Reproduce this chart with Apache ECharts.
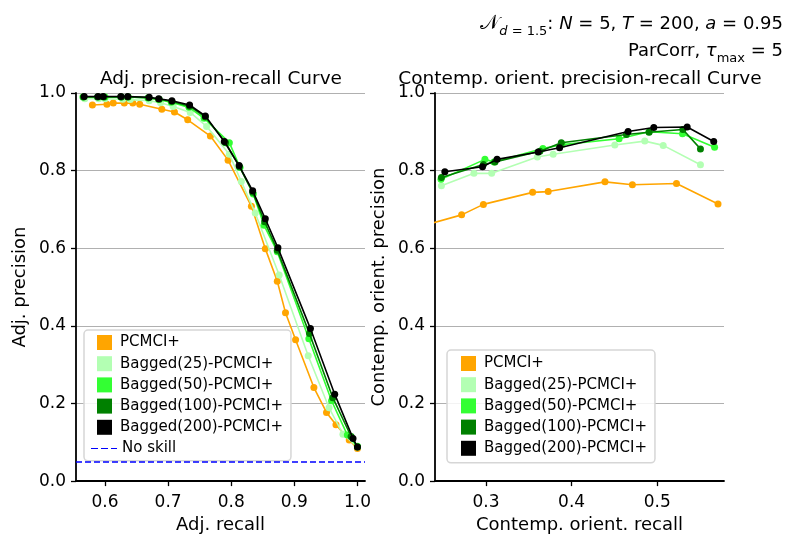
<!DOCTYPE html>
<html>
<head>
<meta charset="utf-8">
<script src="https://cdn.jsdelivr.net/npm/echarts@6/dist/echarts.min.js"></script>
<style>html,body{margin:0;padding:0;background:#fff}#c{width:802px;height:539px}</style>
</head>
<body>
<div id="c"></div>
<script>
// ---------- DATA ----------
const seriesNames = ['PCMCI+', 'Bagged(25)-PCMCI+', 'Bagged(50)-PCMCI+', 'Bagged(100)-PCMCI+', 'Bagged(200)-PCMCI+'];
const seriesColors = ['#ffa500', '#b3ffb3', '#33ff33', '#008000', '#000000'];

// Left panel: adjacency precision-recall
const adjRecall_pcmci = [0.580,0.603,0.613,0.6305,0.644,0.655,0.690,0.710,0.731,0.767,0.795,0.832,0.854,0.873,0.886,0.902,0.931,0.951,0.966,0.987,1.0];
const adjPrec_pcmci   = [0.969,0.971,0.974,0.974,0.974,0.971,0.958,0.951,0.931,0.889,0.827,0.708,0.599,0.515,0.434,0.364,0.241,0.177,0.145,0.106,0.084];
const adjRecall_b25 = [0.568,0.590,0.600,0.628,0.640,0.670,0.688,0.708,0.735,0.761,0.797,0.816,0.838,0.876,0.922,0.955,0.977,1.0];
const adjPrec_b25   = [0.985,0.985,0.985,0.984,0.983,0.980,0.975,0.965,0.950,0.914,0.842,0.772,0.691,0.531,0.323,0.189,0.121,0.088];
const adjRecall_b50 = [0.565,0.590,0.600,0.625,0.637,0.668,0.685,0.705,0.733,0.757,0.797,0.814,0.835,0.852,0.873,0.923,0.959,0.984,1.0];
const adjPrec_b50   = [0.990,0.990,0.990,0.990,0.990,0.987,0.983,0.976,0.963,0.935,0.872,0.808,0.740,0.659,0.591,0.367,0.207,0.119,0.090];
const adjRecall_b100 = [0.566,0.588,0.598,0.626,0.636,0.669,0.686,0.706,0.734,0.759,0.791,0.813,0.834,0.853,0.873,0.924,0.961,0.990,1.0];
const adjPrec_b100   = [0.990,0.990,0.990,0.990,0.990,0.988,0.984,0.978,0.966,0.938,0.872,0.810,0.744,0.668,0.595,0.380,0.215,0.115,0.088];
const adjRecall_b200 = [0.567,0.589,0.597,0.625,0.636,0.670,0.685,0.706,0.734,0.759,0.789,0.8125,0.834,0.854,0.874,0.9255,0.964,0.993,1.0];
const adjPrec_b200   = [0.991,0.991,0.991,0.991,0.991,0.989,0.985,0.980,0.969,0.941,0.875,0.813,0.748,0.676,0.601,0.393,0.224,0.110,0.088];
const noSkill = 0.05;

// Right panel: contemporaneous orientation precision-recall
const orRecall_pcmci = [0.210,0.2716,0.297,0.3545,0.3727,0.439,0.471,0.5225,0.571];
const orPrec_pcmci   = [0.648,0.686,0.713,0.744,0.746,0.771,0.7635,0.767,0.714];
const orRecall_b25 = [0.248,0.286,0.3067,0.360,0.3785,0.4505,0.4855,0.507,0.5505];
const orPrec_b25   = [0.761,0.793,0.793,0.835,0.842,0.866,0.876,0.865,0.815];
const orRecall_b50 = [0.2475,0.2988,0.3093,0.3665,0.389,0.4555,0.4905,0.5295,0.567];
const orPrec_b50   = [0.778,0.829,0.822,0.857,0.867,0.882,0.900,0.895,0.860];
const orRecall_b100 = [0.248,0.297,0.3105,0.363,0.388,0.464,0.4905,0.530,0.5505];
const orPrec_b100   = [0.782,0.816,0.822,0.850,0.872,0.893,0.899,0.906,0.856];
const orRecall_b200 = [0.252,0.296,0.313,0.361,0.386,0.466,0.496,0.535,0.566];
const orPrec_b200   = [0.797,0.810,0.829,0.848,0.859,0.901,0.911,0.9125,0.875];

// Axis settings
const leftXRange = [0.554, 1.012];
const leftXTicks = [0.6, 0.7, 0.8, 0.9, 1.0];
const rightXRange = [0.2405, 0.578];
const rightXTicks = [0.3, 0.4, 0.5];

// ---------- CHART ----------
const FONT = 'DejaVu Sans';
const leftX = [adjRecall_pcmci, adjRecall_b25, adjRecall_b50, adjRecall_b100, adjRecall_b200];
const leftY = [adjPrec_pcmci, adjPrec_b25, adjPrec_b50, adjPrec_b100, adjPrec_b200];
const rightX = [orRecall_pcmci, orRecall_b25, orRecall_b50, orRecall_b100, orRecall_b200];
const rightY = [orPrec_pcmci, orPrec_b25, orPrec_b50, orPrec_b100, orPrec_b200];

function mk(i, xs, ys, axis) {
  return {
    type: 'line', name: seriesNames[i], xAxisIndex: axis, yAxisIndex: axis,
    data: xs.map((v, k) => [v, ys[k]]),
    symbol: 'circle', symbolSize: 7, showSymbol: true,
    lineStyle: { color: seriesColors[i], width: 1.6 },
    itemStyle: { color: seriesColors[i] },
    z: 3 + i, clip: true, silent: true
  };
}
const series = [];
for (let i = 0; i < 5; i++) series.push(mk(i, leftX[i], leftY[i], 0));
series.push({
  type: 'line', name: 'No skill', xAxisIndex: 0, yAxisIndex: 0, data: [],
  symbol: 'none', color: '#0000ff',
  lineStyle: { color: '#0000ff', type: [6, 3], width: 1.5 },
  markLine: { silent: true, symbol: ['none', 'none'], label: { show: false },
    lineStyle: { color: '#0000ff', type: [6, 3], width: 1.5 },
    data: [{ yAxis: noSkill }] }
});
for (let i = 0; i < 5; i++) series.push(mk(i, rightX[i], rightY[i], 1));

function xAxis(idx, range, ticks, name) {
  return {
    type: 'value', gridIndex: idx, min: range[0], max: range[1],
    name: name, nameLocation: 'middle', nameGap: 31,
    nameTextStyle: { fontFamily: FONT, fontSize: 18, color: '#000' },
    axisLine: { show: true, onZero: false, lineStyle: { color: '#000', width: 1.8 } },
    axisTick: { show: true, customValues: ticks, length: 5, lineStyle: { color: '#000', width: 1.3 } },
    axisLabel: { customValues: ticks, margin: 13, fontFamily: FONT, fontSize: 17, color: '#000',
      formatter: v => v.toFixed(1) },
    splitLine: { show: false }
  };
}
function yAxis(idx, name) {
  return {
    type: 'value', gridIndex: idx, min: 0, max: 1, interval: 0.2,
    name: name, nameLocation: 'middle', nameGap: 47, nameRotate: 90,
    nameTextStyle: { fontFamily: FONT, fontSize: 18, color: '#000' },
    axisLine: { show: true, onZero: false, lineStyle: { color: '#000', width: 1.8 } },
    axisTick: { show: true, length: 5, lineStyle: { color: '#000', width: 1.3 } },
    axisLabel: { margin: 10, fontFamily: FONT, fontSize: 17, color: '#000',
      formatter: v => v.toFixed(1) },
    splitLine: { show: true, lineStyle: { color: '#b0b0b0', width: 1 } }
  };
}

const legendBase = {
  orient: 'vertical', icon: 'rect', itemWidth: 15, itemHeight: 15, itemGap: 6.2,
  textStyle: { fontFamily: FONT, fontSize: 15, color: '#000', padding: [0, 0, 0, 3] },
  borderColor: '#d6d6d6', borderWidth: 1.5, borderRadius: 4,
  backgroundColor: 'rgba(255,255,255,0.85)', selectedMode: false,
  data: seriesNames
};

const txt = { fontFamily: FONT, fontSize: 18, fontWeight: 'normal', color: '#000', height: 24, verticalAlign: 'top' };
const option = {
  animation: false,
  backgroundColor: '#fff',
  title: [
    { text: 'Adj. precision-recall Curve', left: 216, top: 65, textAlign: 'center',
      textStyle: { fontFamily: FONT, fontSize: 18.5, fontWeight: 'normal', color: '#000' } },
    { text: 'Contemp. orient. precision-recall Curve', left: 575, top: 65, textAlign: 'center',
      textStyle: { fontFamily: FONT, fontSize: 18.5, fontWeight: 'normal', color: '#000' } },
    { text: '{c|𝒩}{s|d}{t| = 1.5}{n|: }{i|N}{n| = 5, }{i|T}{n| = 200, }{i|a}{n| = 0.95}', right: 14, top: 7,
      textStyle: { fontWeight: 'normal', rich: {
        n: txt,
        i: Object.assign({}, txt, { fontStyle: 'italic' }),
        c: Object.assign({}, txt, { fontSize: 20 }),
        s: Object.assign({}, txt, { fontSize: 13, fontStyle: 'italic', padding: [8, 0, 0, 0] }),
        t: Object.assign({}, txt, { fontSize: 13, padding: [8, 0, 0, 0] })
      } } },
    { text: '{n|ParCorr, }{i|τ}{s|max}{n| = 5}', right: 14, top: 34,
      textStyle: { fontWeight: 'normal', rich: {
        n: txt,
        i: Object.assign({}, txt, { fontStyle: 'italic' }),
        s: Object.assign({}, txt, { fontSize: 13, padding: [8, 0, 0, 0] })
      } } }
  ],
  grid: [
    { left: 76, top: 93, width: 289, height: 392, containLabel: false },
    { left: 435, top: 93, width: 289, height: 392, containLabel: false }
  ],
  xAxis: [
    xAxis(0, leftXRange, leftXTicks, 'Adj. recall'),
    xAxis(1, rightXRange, rightXTicks, 'Contemp. orient. recall')
  ],
  yAxis: [ yAxis(0, 'Adj. precision'), yAxis(1, 'Contemp. orient. precision') ],
  legend: [
    Object.assign({}, legendBase, { left: 84, top: 330, padding: [5, 8, 26, 13] }),
    { orient: 'vertical', left: 91, top: 441, padding: 0, itemWidth: 26, itemHeight: 1.6,
      icon: 'path://M0,0H7V1H0Z M10,0H17V1H10Z M20,0H26V1H20Z',
      selectedMode: false, data: ['No skill'],
      textStyle: { fontFamily: FONT, fontSize: 15, color: '#000', padding: [0, 0, 0, 0] } },
    Object.assign({}, legendBase, { left: 447, top: 350, padding: [6, 8, 7, 14] })
  ],
  series: series
};

const chart = echarts.init(document.getElementById('c'), null, { renderer: 'canvas' });
chart.setOption(option);
</script>
</body>
</html>
